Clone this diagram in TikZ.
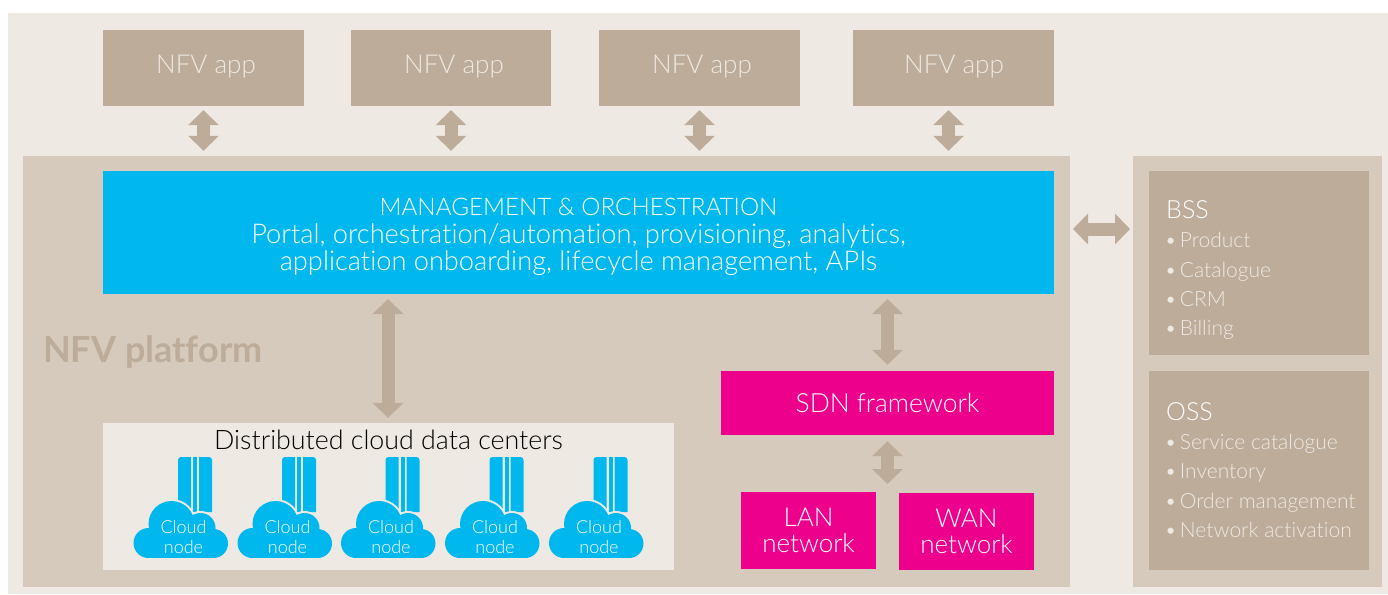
\documentclass[tikz,border=0pt]{standalone}
\usepackage{fontspec}
\setmainfont{Lato}[UprightFont=* Light,BoldFont=* Bold,Ligatures=NoCommon]
\usetikzlibrary{arrows.meta}
\definecolor{paleSand}{HTML}{EEE9E3}
\definecolor{midSand}{HTML}{D5CABC}
\definecolor{darkSand}{HTML}{BDAC9A}
\definecolor{skyBlue}{HTML}{00B8EE}
\definecolor{hotPink}{HTML}{EC008C}
\newcommand{\pxfont}[1]{\fontsize{#1}{#1}\selectfont}

\begin{document}
\begin{tikzpicture}
[x=1pt,y=-1pt,
  boxDecorate/.style={shape=rectangle,inner sep=0pt,text=white,align=center},%
  sizeDecorate/.style 2 args={minimum width=#1,minimum height=#2},%
  arrowDecorate/.style={{Triangle[width=30pt,length=15pt]}-{Triangle[width=30pt,length=15pt]},line width=13pt,draw=darkSand},%
  listDecorate/.style={anchor=base west,inner sep=0pt,text=paleSand,font=\pxfont{21}},%
  headDecorate/.style={anchor=base west,inner sep=0pt,text=white,font=\pxfont{25}},%
  cloudNode/.pic={
    \fill[skyBlue] (-2.5,-46) [rounded corners=3pt] -- (-2.5,-101) [sharp corners] -- (10.5,-101) -- (10.5,-46) -- cycle;
    \fill[skyBlue] (12.5,-46) rectangle (16.5,-101);
    \fill[skyBlue] (18.5,-46) -- (18.5,-101) [rounded corners=3pt] -- (31.5,-101) [sharp corners] -- (31.5,-46) -- cycle;
    \path[fill=paleSand,draw=paleSand,line width=4pt] (-9,-34) circle (23);
    \path[fill=paleSand,draw=paleSand,line width=4pt] (20,-30) circle (15);
    \fill[skyBlue] (-9,-34) circle (23);
    \fill[skyBlue] (20,-30) circle (15);
    \fill[skyBlue] (-32,-15) circle (15);
    \fill[skyBlue] (33,-14.5) circle (14.5);
    \fill[skyBlue] (-32,-30) rectangle (33,0);
    \node (-label) at (3,-21) [inner sep=0pt,text=white,align=center,font=\pxfont{18}] {Cloud\\[2pt]node};
  }]
\useasboundingbox (0,0) rectangle (1388,594);
%% panels
\node (backdrop) at (698,303.5) [boxDecorate,fill=paleSand,sizeDecorate={1380pt}{581pt}] {};
\node (platform) at (546.5,371.5) [boxDecorate,fill=midSand,sizeDecorate={1047pt}{431pt}] {};
\node (support) at (1257.5,371.5) [boxDecorate,fill=midSand,sizeDecorate={249pt}{431pt}] {};
\node (platformTitle) at (43,352) [anchor=west,inner sep=0pt,text=darkSand,font=\pxfont{36}\bfseries] {NFV platform};
%% apps
\foreach \nodename/\x/\w in {app1/203.5/201, app2/451/200, app3/699.5/201, app4/953.5/201}
{
  \node (\nodename) at (\x,68) [boxDecorate,fill=darkSand,sizeDecorate={\w pt}{76pt}] {};
}
\foreach \nodename/\x in {app1Label/206, app2Label/454, app3Label/702, app4Label/954}
{
  \node (\nodename) at (\x,67) [inner sep=0pt,text=paleSand,font=\pxfont{26}] {NFV app};
}
%% inner boxes
\node (mano) at (578.5,232.5) [boxDecorate,fill=skyBlue,sizeDecorate={951pt}{123pt}] {};
\node (manoLabel) at (578.5,237) [inner sep=0pt,text=white,align=center,font=\pxfont{27.2}] {{\pxfont{24.2}MANAGEMENT \& ORCHESTRATION}\\[0pt]Portal, orchestration/automation, provisioning, analytics,\\[0pt]application onboarding, lifecycle management, APIs};
\node (sdn) at (887.5,403) [boxDecorate,fill=hotPink,sizeDecorate={333pt}{64pt},font=\pxfont{26.4}] {SDN framework};
\node (lan) at (808.5,530.5) [boxDecorate,fill=hotPink,sizeDecorate={135pt}{77pt},font=\pxfont{26}] {LAN\\network};
\node (wan) at (966.5,531.5) [boxDecorate,fill=hotPink,sizeDecorate={135pt}{77pt},font=\pxfont{26}] {WAN\\network};
\node (dist) at (388.5,496.5) [boxDecorate,fill=paleSand,sizeDecorate={571pt}{147pt}] {};
\node (distTitle) at (388.5,440) [inner sep=0pt,text=black,font=\pxfont{26.8}] {Distributed cloud data centers};
\foreach \nodename/\x in {cloud1/180.5, cloud2/284.5, cloud3/388, cloud4/492, cloud5/596}
{
  \pic (\nodename) at (\x,558) {cloudNode};
}
\node (bss) at (1259,263) [boxDecorate,fill=darkSand,sizeDecorate={220pt}{184pt}] {};
\node (oss) at (1259,470.5) [boxDecorate,fill=darkSand,sizeDecorate={220pt}{199pt}] {};
%% lists
\node (bssTitle) at (1166,218) [headDecorate] {BSS};
\foreach \nodename/\y/\itemtext in {bss1/247/Product, bss2/277/Catalogue, bss3/306/CRM, bss4/335/Billing}
{
  \node (\nodename) at (1164.5,\y) [listDecorate] {•\hspace{3pt}\itemtext};
}
\node (ossTitle) at (1166,420) [headDecorate] {OSS};
\foreach \nodename/\y/\itemtext in {oss1/449/Service catalogue, oss2/478/Inventory, oss3/508/Order management, oss4/537/Network activation}
{
  \node (\nodename) at (1164.5,\y) [listDecorate] {•\hspace{3pt}\itemtext};
}
%% connector ends
\coordinate (manoLeft) at (388,294);
\coordinate (manoRight) at (887.5,294);
\coordinate (networks) at (887.5,492);
\coordinate (platformEdge) at (1070,229);
\coordinate (supportEdge) at (1133,229);
%% arrows
\foreach \startnode in {app1, app2, app3}
{
  \draw[arrowDecorate,shorten <=4pt,shorten >=20pt] (\startnode.south) -- (\startnode.south |- mano.north);
}
\draw[arrowDecorate,shorten <=4pt,shorten >=20pt] ([xshift=-5pt]app4.south) -- ([xshift=-5pt]app4.south |- mano.north);
\draw[arrowDecorate,shorten <=5pt,shorten >=5pt] (manoLeft) -- (manoLeft |- dist.north);
\draw[arrowDecorate,shorten <=5pt,shorten >=6pt] (manoRight) -- (manoRight |- sdn.north);
\draw[arrowDecorate,shorten <=6pt,shorten >=8pt] (sdn.south) -- (networks);
\draw[arrowDecorate,shorten <=3pt,shorten >=3pt] (platformEdge) -- (supportEdge);
\end{tikzpicture}
\end{document}
